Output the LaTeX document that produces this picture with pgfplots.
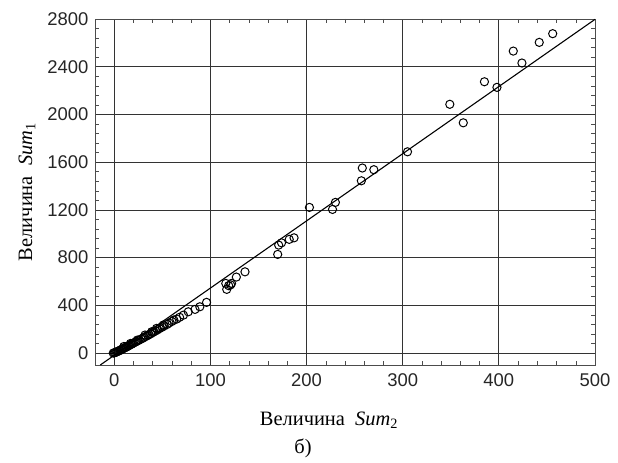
\documentclass[border=0pt]{standalone}
\usepackage{pgfplots}
\pgfplotsset{compat=1.18}
\usepackage{fontspec}
\setmainfont{Liberation Serif}
\newfontfamily\arial{Liberation Sans}

\begin{document}
\begin{tikzpicture}
\begin{axis}[
  scale only axis,
  width=500bp, height=346bp,
  xmin=-20, xmax=500, ymin=-100, ymax=2800,
  xtick={0,100,...,500}, ytick={0,400,...,2800},
  minor x tick num=4, minor y tick num=4,
  tick align=inside, major tick length=0pt, minor tick length=4bp,
  tick style={black!70, line width=0.5pt},
  grid=major, major grid style={black!80, line width=0.8pt},
  axis line style={black!70, line width=0.8pt},
  /pgf/number format/assume math mode=true,
  /pgf/number format/1000 sep={},
  ticklabel style={font=\arial\fontsize{18.5}{22}\selectfont, text=black!85},
  yticklabel style={xshift=-3bp},
  xticklabel style={yshift=-5bp},
  label style={font=\fontsize{20.5}{24}\selectfont},
  xlabel={Величина\ \ \textit{Sum}\textsubscript{2}},
  ylabel={Величина\ \ \textit{Sum}\textsubscript{1}},
  xlabel style={at={(axis description cs:0.468,0)}, anchor=center, yshift=-55bp},
  ylabel style={at={(axis description cs:0,0.5)}, anchor=center, yshift=68bp},
  clip=false,
]
% fitted line
\addplot[black, line width=1.1pt] coordinates {(-14.5,-100) (500,2797)};

% observations
\addplot[only marks, mark=o, mark size=4.1bp, mark options={line width=1pt, black}] coordinates {
(456,2677) (442,2604) (415,2531) (424,2431) (385,2274) (398,2227)
(349,2085) (363,1930) (305,1687) (258,1551) (270,1537) (257,1444)
(203,1221) (230,1263) (227,1204) (174,924) (171,905) (182,953)
(187,966) (170,827) (136,681) (127,637) (116,584) (122,584)
(119,565) (117,534) (121,572) (96,425) (89,388) (84,366)
(77,346) (72,318) (68,300) (65,285) (62,277) (60,265)
(57,252) (55,240) (52,228) (51,235) (50,218) (48,212)
(47,205) (45,195) (44,207) (43,186) (41,178) (40,172)
(39,179) (38,162) (36,155) (35,148) (33,140) (32,151)
(31,132) (30,126) (28,118) (26,110) (25,105) (24,109)
(23,98) (22,92) (20,84) (19,80) (18,74) (17,81)
(16,66) (15,62) (14,58) (13,52) (12,48) (11,45)
(10,55) (10,40) (9,36) (8,32) (7,28) (6,22)
(5,20) (4,15) (3,12) (2,8) (1,5) (0,2) (-1,0)
};

\node[font=\fontsize{20.5}{24}\selectfont] at (axis description cs:0.416,0) [yshift=-83bp] {б)};
\end{axis}
\path ([shift={(-95bp,-97bp)}]current axis.south west) rectangle ([shift={(23bp,19bp)}]current axis.north east);
\end{tikzpicture}
\end{document}
